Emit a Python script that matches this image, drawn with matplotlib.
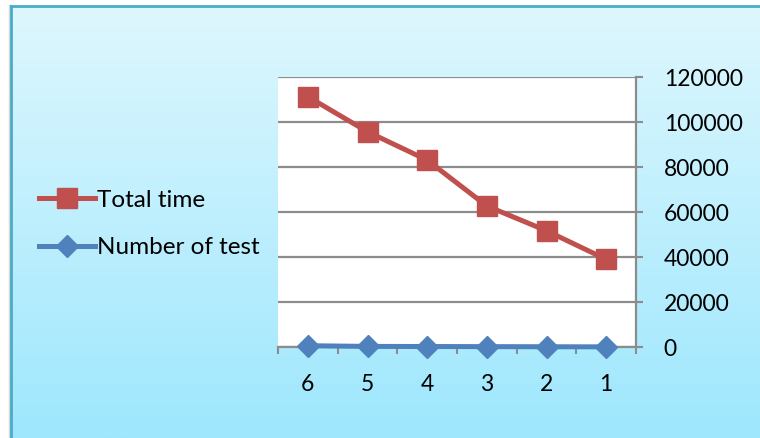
import numpy as np
import matplotlib.pyplot as plt
from matplotlib.lines import Line2D

plt.rcParams['font.family'] = ['Lato', 'DejaVu Sans']

categories = ['6', '5', '4', '3', '2', '1']
total_time = [111400, 95800, 83200, 62800, 51800, 39100]
number_of_test = [700, 400, 350, 300, 250, 200]
y_ticks = [0, 20000, 40000, 60000, 80000, 100000, 120000]

W, H = 760, 438
fig = plt.figure(figsize=(W / 100, H / 100), dpi=100)
fig.patch.set_facecolor('white')

# gradient panel behind the chart
bg = fig.add_axes([11 / W, 0, 1 - 11 / W, 1 - 6 / H], zorder=0)
grad = np.linspace(0, 1, 256).reshape(-1, 1)
top = np.array([222, 247, 254]) / 255
bottom = np.array([158, 231, 253]) / 255
img = top + (bottom - top) * grad[..., None]
bg.imshow(img, aspect='auto', extent=[0, 1, 0, 1], origin='upper')
bg.set_axis_off()

# panel border with a soft shadow on the left
fig.add_artist(Line2D([9.5 / W, 9.5 / W], [0, 1 - 6 / H], color='#d8d8d8', lw=2.5))
fig.add_artist(Line2D([11 / W, 11 / W], [0, 1 - 6 / H], color='#4bacc6', lw=2))
fig.add_artist(Line2D([11 / W, 1], [1 - 6 / H, 1 - 6 / H], color='#4bacc6', lw=2))

ax = fig.add_axes([278 / W, 1 - 347.3 / H, (636 - 278) / W, (347.3 - 77.3) / H], zorder=2)
ax.set_facecolor('white')
x = np.arange(len(categories))

ax.plot(x, total_time, color='#c0504d', lw=3.6, marker='s', markersize=14,
        markeredgecolor='#c0504d', label='Total time', clip_on=False, zorder=4)
ax.plot(x, number_of_test, color='#4f81bd', lw=3.6, marker='D', markersize=11.5,
        markeredgecolor='#4f81bd', label='Number of test', clip_on=False, zorder=4)

ax.set_xlim(-0.5, len(categories) - 0.5)
ax.set_ylim(0, 120000)
ax.set_yticks(y_ticks)
ax.set_yticklabels([str(v) for v in y_ticks])
ax.yaxis.tick_right()
ax.yaxis.grid(True, color='#8c8c8c', lw=1.6)
ax.set_axisbelow(True)

ax.set_xticks(x)
ax.set_xticklabels(categories)
ax.set_xticks(np.arange(-0.5, len(categories)), minor=True)
ax.tick_params(axis='x', which='major', length=0, pad=19, labelsize=16.5, labelcolor='black')
ax.tick_params(axis='x', which='minor', length=5, width=1.5, color='#8c8c8c')
ax.tick_params(axis='y', length=5, width=1.5, color='#8c8c8c', pad=15, labelsize=16.5,
               labelcolor='black')

for side in ['left', 'top']:
    ax.spines[side].set_visible(False)
for side in ['right', 'bottom']:
    ax.spines[side].set_color('#8c8c8c')
    ax.spines[side].set_linewidth(1.6)

handles, labels = ax.get_legend_handles_labels()
fig.legend(handles, labels, loc='center left', bbox_to_anchor=(27 / W, 1 - 224 / H),
           frameon=False, fontsize=17.5, handlelength=2.3, handletextpad=0.1,
           labelspacing=1.1, borderpad=0)

fig.savefig('out.png', dpi=100)
